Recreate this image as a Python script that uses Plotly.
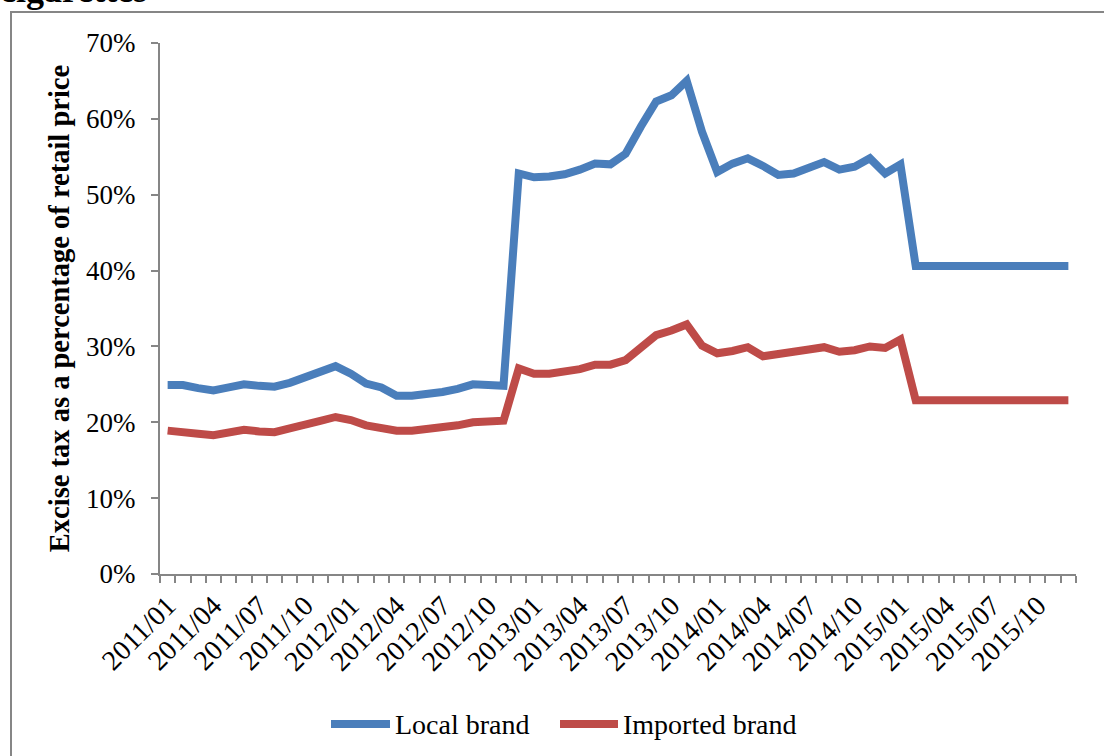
import plotly.graph_objects as go

# Monthly periods, Jan 2011 – Dec 2015
months = [f"{y}/{m:02d}" for y in range(2011, 2016) for m in range(1, 13)]

# Excise tax as a share of retail price (%)
local_brand = [
    24.9, 24.9, 24.5, 24.2, 24.6, 25.0, 24.8, 24.7, 25.2, 25.9, 26.5, 27.4,
    26.4, 25.1, 24.6, 23.5, 23.5, 23.7, 24.0, 24.4, 25.0, 24.9, 24.8, 52.8,
    52.3, 52.4, 52.7, 53.3, 54.1, 54.0, 55.4, 59.0, 62.3, 63.1, 65.0, 58.3,
    53.0, 54.1, 54.8, 53.8, 52.6, 52.8, 53.5, 54.3, 53.3, 53.7, 54.8, 52.8,
    54.0, 40.6, 40.6, 40.6, 40.6, 40.6, 40.6, 40.6, 40.6, 40.6, 40.6, 40.6,
]
imported_brand = [
    18.9, 18.8, 18.5, 18.3, 18.6, 19.0, 18.8, 18.7, 19.2, 19.6, 20.2, 20.7,
    20.3, 19.6, 19.3, 18.9, 18.9, 19.1, 19.3, 19.6, 20.0, 20.1, 20.2, 27.1,
    26.4, 26.4, 26.7, 27.0, 27.6, 27.6, 28.2, 29.7, 31.5, 32.1, 32.9, 30.1,
    29.1, 29.4, 29.9, 28.7, 29.1, 29.3, 29.6, 29.9, 29.3, 29.5, 30.0, 29.8,
    30.9, 22.9, 22.9, 22.9, 22.9, 22.9, 22.9, 22.9, 22.9, 22.9, 22.9, 22.9,
]
series_names = ["Local brand", "Imported brand"]
series_colors = ["#4A7EBB", "#BE4B48"]

# Quarterly tick labels
tick_text = [m if i % 3 == 0 else "" for i, m in enumerate(months)]

W, H = 1104, 756
L, R, T, B = 160, 28, 43, 182
PW, PH = W - L - R, H - T - B


def px(x):
    return (x - L) / PW


def py(y):
    return (H - B - y) / PH


FONT = "Liberation Serif"
AXIS_GRAY = "#868686"

fig = go.Figure()
for name, vals, color in zip(series_names, [local_brand, imported_brand], series_colors):
    fig.add_trace(go.Scatter(
        x=months, y=[v / 100 for v in vals], mode="lines", name=name,
        line=dict(color=color, width=8), showlegend=False,
    ))

fig.update_layout(
    width=W, height=H,
    margin=dict(l=L, r=R, t=T, b=B),
    paper_bgcolor="white", plot_bgcolor="white",
    font=dict(family=FONT, size=27, color="black"),
    xaxis=dict(
        type="category", range=[-0.5, len(months) - 0.5],
        tickmode="array", tickvals=months, ticktext=tick_text,
        tickson="boundaries", ticks="outside", ticklen=7, tickwidth=2,
        tickcolor=AXIS_GRAY, tickangle=-45, ticklabelstandoff=2,
        showline=True, linecolor=AXIS_GRAY, linewidth=2,
        showgrid=False, zeroline=False,
        tickfont=dict(family=FONT, size=28, color="black"),
    ),
    yaxis=dict(
        range=[0, 0.7], dtick=0.1, tickformat=".0%",
        ticks="outside", ticklen=7, tickwidth=2, tickcolor=AXIS_GRAY,
        ticklabelstandoff=10,
        showline=True, linecolor=AXIS_GRAY, linewidth=2,
        showgrid=False, zeroline=False,
        tickfont=dict(family=FONT, size=27, color="black"),
        title=dict(text="<b>Excise tax as a percentage of retail price</b>",
                   font=dict(family=FONT, size=28.5, color="black"), standoff=8),
    ),
)

# Chart frame
fig.add_shape(type="rect", xref="paper", yref="paper",
              x0=px(11), x1=px(W + 20), y0=py(H + 20), y1=py(12),
              line=dict(color=AXIS_GRAY, width=2), fillcolor="rgba(0,0,0,0)",
              layer="below")

# Heading line above the frame
fig.add_annotation(text="<b>cigarettes</b>", xref="paper", yref="paper",
                   x=px(-2), y=py(12), xanchor="left", yanchor="bottom",
                   showarrow=False, font=dict(family=FONT, size=36, color="black"))

# Legend
legend_items = [(331, 390, 393), (560, 618, 621)]
ly = 724
for (x0, x1, tx), name, color in zip(legend_items, series_names, series_colors):
    fig.add_shape(type="line", xref="paper", yref="paper",
                  x0=px(x0), x1=px(x1), y0=py(ly), y1=py(ly),
                  line=dict(color=color, width=8))
    fig.add_annotation(text=name, xref="paper", yref="paper",
                       x=px(tx), y=py(ly), xanchor="left", yanchor="middle",
                       showarrow=False,
                       font=dict(family=FONT, size=28, color="black"))

fig.write_html("out.html")
